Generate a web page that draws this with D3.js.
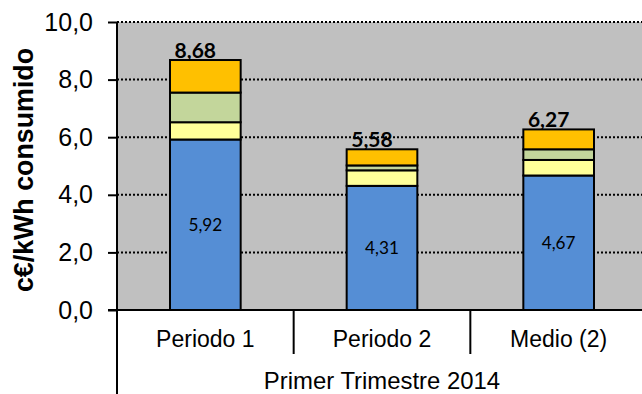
<!DOCTYPE html>
<html>
<head>
<meta charset="utf-8">
<script src="https://cdn.jsdelivr.net/npm/d3@7/dist/d3.min.js"></script>
<style>
  html, body { margin: 0; padding: 0; background: #fff; }
  svg { display: block; }
</style>
</head>
<body>
<svg id="chart" width="642" height="394"></svg>
<script>
// Cost components (c€/kWh consumido), first quarter 2014
const categories = ["Periodo 1", "Periodo 2", "Medio (2)"];
const groupLabel = "Primer Trimestre 2014";
const seriesNames = ["s1", "s2", "s3", "s4"];
const seriesBase   = [5.92, 4.31, 4.67];
const seriesSecond = [0.60, 0.54, 0.54];
const seriesThird  = [1.03, 0.17, 0.37];
const seriesFourth = [1.13, 0.56, 0.69];
const totals = [8.68, 5.58, 6.27];
const yTicks = [0, 2, 4, 6, 8, 10];

const colors = ["#558ED5", "#FFFF99", "#C3D69B", "#FFC000"];
const fmt = v => d3.format(".2f")(v).replace(".", ",");
const fmtTick = v => d3.format(".1f")(v).replace(".", ",");

const svg = d3.select("#chart");
const plotLeft = 117, plotRight = 647, plotTop = 22, plotBottom = 310;

const x = d3.scaleBand().domain(categories).range([plotLeft, plotRight]).padding(0);
const y = d3.scaleLinear().domain([0, 10]).range([plotBottom, plotTop]);

const rows = categories.map((c, i) => ({
  cat: c,
  s1: seriesBase[i], s2: seriesSecond[i], s3: seriesThird[i], s4: seriesFourth[i],
  total: totals[i]
}));
const stacked = d3.stack().keys(seriesNames)(rows);

// plot background
svg.append("rect")
  .attr("x", plotLeft).attr("y", y(10))
  .attr("width", plotRight - plotLeft).attr("height", y(0) - y(10))
  .attr("fill", "#C0C0C0");

// dotted gridlines
svg.append("g").selectAll("line")
  .data(yTicks.filter(t => t > 0))
  .join("line")
  .attr("x1", plotLeft).attr("x2", plotRight)
  .attr("y1", d => y(d)).attr("y2", d => y(d))
  .attr("stroke", "#000").attr("stroke-width", 2)
  .attr("stroke-dasharray", "2,2");

// y axis
const yAxis = d3.axisLeft(y).tickValues(yTicks).tickFormat(fmtTick)
  .tickSize(9).tickPadding(15);
const gy = svg.append("g").attr("transform", `translate(${plotLeft},0)`).call(yAxis);
gy.select(".domain").remove();
gy.selectAll(".tick line").attr("stroke", "#000").attr("stroke-width", 2);
gy.selectAll(".tick text")
  .attr("font-family", "Liberation Sans, Arial, sans-serif")
  .attr("font-size", 25).attr("fill", "#000");

// stacked bars
const bw = x.bandwidth() * 0.4;
svg.append("g").selectAll("g")
  .data(stacked)
  .join("g")
  .attr("fill", (d, i) => colors[i])
  .selectAll("rect")
  .data(d => d)
  .join("rect")
  .attr("x", d => x(d.data.cat) + (x.bandwidth() - bw) / 2)
  .attr("y", d => y(d[1]))
  .attr("width", bw)
  .attr("height", d => y(d[0]) - y(d[1]))
  .attr("stroke", "#000").attr("stroke-width", 2);

// value of the base segment, centred in it
svg.append("g").selectAll("text")
  .data(rows)
  .join("text")
  .attr("x", d => x(d.cat) + x.bandwidth() / 2)
  .attr("y", d => (y(0) + y(d.s1)) / 2)
  .attr("dy", "0.35em")
  .attr("text-anchor", "middle")
  .attr("font-family", "Lato, sans-serif")
  .attr("font-size", 17.2)
  .attr("fill", "#000")
  .text(d => fmt(d.s1));

// totals above each bar
svg.append("g").selectAll("text")
  .data(rows)
  .join("text")
  .attr("x", d => x(d.cat) + x.bandwidth() / 2 - 10)
  .attr("y", d => y(d.total) - 2.5)
  .attr("text-anchor", "middle")
  .attr("font-family", "Lato, sans-serif")
  .attr("font-weight", "bold")
  .attr("font-size", 21)
  .attr("fill", "#000")
  .text(d => fmt(d.total));

// axis lines
svg.append("line")
  .attr("x1", plotLeft).attr("x2", plotLeft).attr("y1", y(10)).attr("y2", 394)
  .attr("stroke", "#000").attr("stroke-width", 2);
svg.append("line")
  .attr("x1", plotLeft - 9).attr("x2", plotRight).attr("y1", y(0)).attr("y2", y(0))
  .attr("stroke", "#000").attr("stroke-width", 2);

// category separators
svg.append("g").selectAll("line")
  .data(categories.slice(1))
  .join("line")
  .attr("x1", d => x(d)).attr("x2", d => x(d))
  .attr("y1", y(0)).attr("y2", y(0) + 44)
  .attr("stroke", "#000").attr("stroke-width", 2);

// category labels
svg.append("g").selectAll("text")
  .data(categories)
  .join("text")
  .attr("x", d => x(d) + x.bandwidth() / 2)
  .attr("y", 346.5)
  .attr("text-anchor", "middle")
  .attr("font-family", "Liberation Sans, Arial, sans-serif")
  .attr("font-size", 23)
  .attr("fill", "#000")
  .text(d => d);

// group label
svg.append("text")
  .attr("x", (plotLeft + plotRight) / 2)
  .attr("y", 388.5)
  .attr("text-anchor", "middle")
  .attr("font-family", "Liberation Sans, Arial, sans-serif")
  .attr("font-size", 23.9)
  .attr("fill", "#000")
  .text(groupLabel);

// y axis title
svg.append("text")
  .attr("transform", "translate(32.5,170) rotate(-90)")
  .attr("text-anchor", "middle")
  .attr("font-family", "Liberation Sans, Arial, sans-serif")
  .attr("font-weight", "bold")
  .attr("font-size", 26.8)
  .attr("fill", "#000")
  .text("c€/kWh consumido");
</script>
</body>
</html>
